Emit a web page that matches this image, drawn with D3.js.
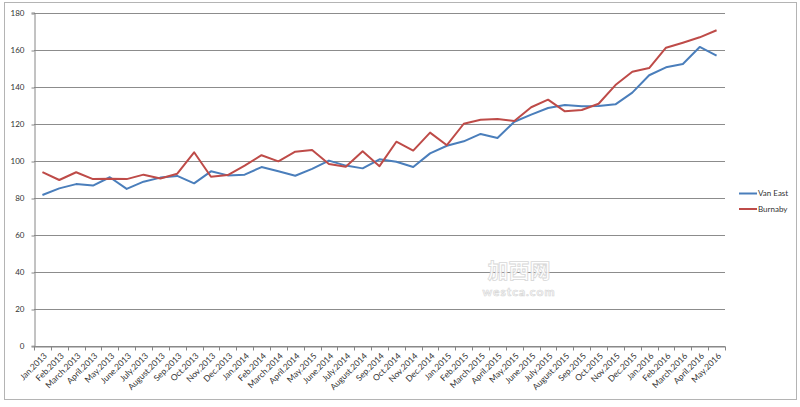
<!DOCTYPE html>
<html>
<head>
<meta charset="utf-8">
<script src="https://cdn.jsdelivr.net/npm/d3@7"></script>
<style>
  body { margin: 0; background: #fff; }
  text { font-family: Lato, "Liberation Sans", sans-serif; }
</style>
</head>
<body>
<div id="chart"></div>
<script>
var svgWidth = 800;
var svgHeight = 407;

// month labels as they appear on the chart (incl. the "May.2015" typo)
var months = ["Jan.2013", "Feb.2013", "March.2013", "April.2013", "May.2013", "June.2013",
    "July.2013", "August.2013", "Sep.2013", "Oct.2013", "Nov.2013", "Dec.2013",
    "Jan.2014", "Feb.2014", "March.2014", "April.2014", "May.2015", "June.2014",
    "July.2014", "August.2014", "Sep.2014", "Oct.2014", "Nov.2014", "Dec.2014",
    "Jan.2015", "Feb.2015", "March.2015", "April.2015", "May.2015", "June.2015",
    "July.2015", "August.2015", "Sep.2015", "Oct.2015", "Nov.2015", "Dec.2015",
    "Jan.2016", "Feb.2016", "March.2016", "April.2016", "May.2016"];

var vanEast = [81.4, 85, 87.3, 86.5, 91, 84.7, 88.6, 90.8, 91.7, 87.7, 94.2, 92,
    92.4, 96.5, 94.2, 91.8, 95.5, 100, 97.3, 95.8, 100.7, 99.4, 96.5, 103.9,
    108, 110.4, 114.4, 112.2, 121, 124.8, 128.4, 130, 129.3, 129.5, 130.4, 136.7,
    146.1, 150.4, 152.2, 161.4, 156.7];

var burnaby = [93.8, 89.5, 93.7, 90, 90.2, 90, 92.4, 90.3, 92.9, 104.5, 91.3, 92.2,
    97.3, 102.9, 99.6, 104.8, 105.7, 98.2, 96.7, 105, 97, 110.2, 105.4, 115.1,
    108.3, 119.9, 122.1, 122.5, 121.4, 128.8, 132.9, 126.6, 127.3, 130.7, 140.8, 148,
    150, 161, 163.7, 166.6, 170.4];

var seriesNames = ["Van East", "Burnaby"];
var seriesColors = ["#4a7ebb", "#be4b48"];
var yTicks = [0, 20, 40, 60, 80, 100, 120, 140, 160, 180];

var plot = { left: 34, right: 725, top: 12.5, bottom: 345.7 };

var svg = d3.select("#chart")
    .append("svg")
    .attr("width", svgWidth)
    .attr("height", svgHeight);

// outer chart frame
svg.append("rect")
    .attr("x", 4.5)
    .attr("y", 2.5)
    .attr("width", 792)
    .attr("height", 397)
    .attr("fill", "#fff")
    .attr("stroke", "#b4b4b4")
    .attr("stroke-width", 1);

// band scale on the month index (labels repeat, so index keeps them apart)
var idx = d3.range(months.length);

var x = d3.scaleBand()
    .domain(idx)
    .range([plot.left, plot.right])
    .padding(0);

var y = d3.scaleLinear()
    .domain([0, 180])
    .range([plot.bottom, plot.top]);

// gridlines
svg.append("g")
    .selectAll("line")
    .data(yTicks)
    .enter().append("line")
    .attr("x1", plot.left)
    .attr("x2", plot.right)
    .attr("y1", d => Math.round(y(d)) + 0.5)
    .attr("y2", d => Math.round(y(d)) + 0.5)
    .attr("stroke", "#8c8c8c")
    .attr("stroke-width", 1);

// y axis
var leftAxis = d3.axisLeft(y)
    .tickValues(yTicks)
    .tickSize(3)
    .tickPadding(7);

var yAxis = svg.append("g")
    .attr("transform", `translate(${plot.left + 0.5}, 0)`)
    .call(leftAxis);
yAxis.select(".domain").attr("stroke", "#868686");
yAxis.selectAll(".tick line")
    .attr("stroke", "#868686")
    .attr("transform", d => `translate(0, ${Math.round(y(d)) + 0.5 - y(d)})`);
yAxis.selectAll("text")
    .attr("fill", "#333")
    .style("font-size", "8px");

// x axis: labels at band centres, tick marks at band edges
var bottomAxis = d3.axisBottom(x)
    .tickSize(0)
    .tickFormat(i => months[i]);

var xAxis = svg.append("g")
    .attr("transform", `translate(0, ${Math.round(plot.bottom) + 0.5})`)
    .call(bottomAxis);
xAxis.select(".domain").attr("stroke", "#868686");
xAxis.selectAll("text")
    .attr("x", 0)
    .attr("y", 0)
    .attr("dy", "0.35em")
    .attr("text-anchor", "end")
    .attr("transform", "translate(3, 8) rotate(-45)")
    .attr("fill", "#333")
    .style("font-size", "8.5px");

var edges = idx.map(i => x(i)).concat([plot.right]);
xAxis.selectAll("line.edge")
    .data(edges)
    .enter().append("line")
    .attr("class", "edge")
    .attr("x1", d => Math.round(d) + 0.5)
    .attr("x2", d => Math.round(d) + 0.5)
    .attr("y1", 0)
    .attr("y2", 4)
    .attr("stroke", "#868686");

// watermark
var wm = svg.append("g").attr("opacity", 0.9);
wm.append("text")
    .attr("x", 519)
    .attr("y", 278)
    .attr("text-anchor", "middle")
    .attr("fill", "#fff")
    .attr("stroke", "#d4d4d4")
    .attr("stroke-width", 0.8)
    .style("font-family", "'Noto Sans CJK SC', sans-serif")
    .style("font-size", "21px")
    .style("font-weight", "bold")
    .text("加西网");
wm.append("text")
    .attr("x", 519)
    .attr("y", 296)
    .attr("text-anchor", "middle")
    .attr("fill", "#fff")
    .attr("stroke", "#d4d4d4")
    .attr("stroke-width", 0.7)
    .style("font-size", "12px")
    .style("font-weight", "bold")
    .style("letter-spacing", "1px")
    .text("westca.com");

// lines
var line = d3.line()
    .x((d, i) => x(i) + x.bandwidth() / 2)
    .y(d => y(d));

[vanEast, burnaby].forEach(function (values, k) {
    svg.append("path")
        .datum(values)
        .attr("fill", "none")
        .attr("stroke", seriesColors[k])
        .attr("stroke-width", 2)
        .attr("stroke-linejoin", "round")
        .attr("d", line);
});

// legend
var legend = svg.append("g")
    .attr("transform", "translate(739, 193.5)");

var items = legend.selectAll("g")
    .data(seriesNames)
    .enter().append("g")
    .attr("transform", (d, i) => `translate(0, ${i * 15.5})`);

items.append("line")
    .attr("x1", 0)
    .attr("x2", 18)
    .attr("stroke", (d, i) => seriesColors[i])
    .attr("stroke-width", 2);

items.append("text")
    .attr("x", 19)
    .attr("dy", "0.35em")
    .attr("fill", "#333")
    .style("font-size", "8px")
    .text(d => d);
</script>
</body>
</html>
